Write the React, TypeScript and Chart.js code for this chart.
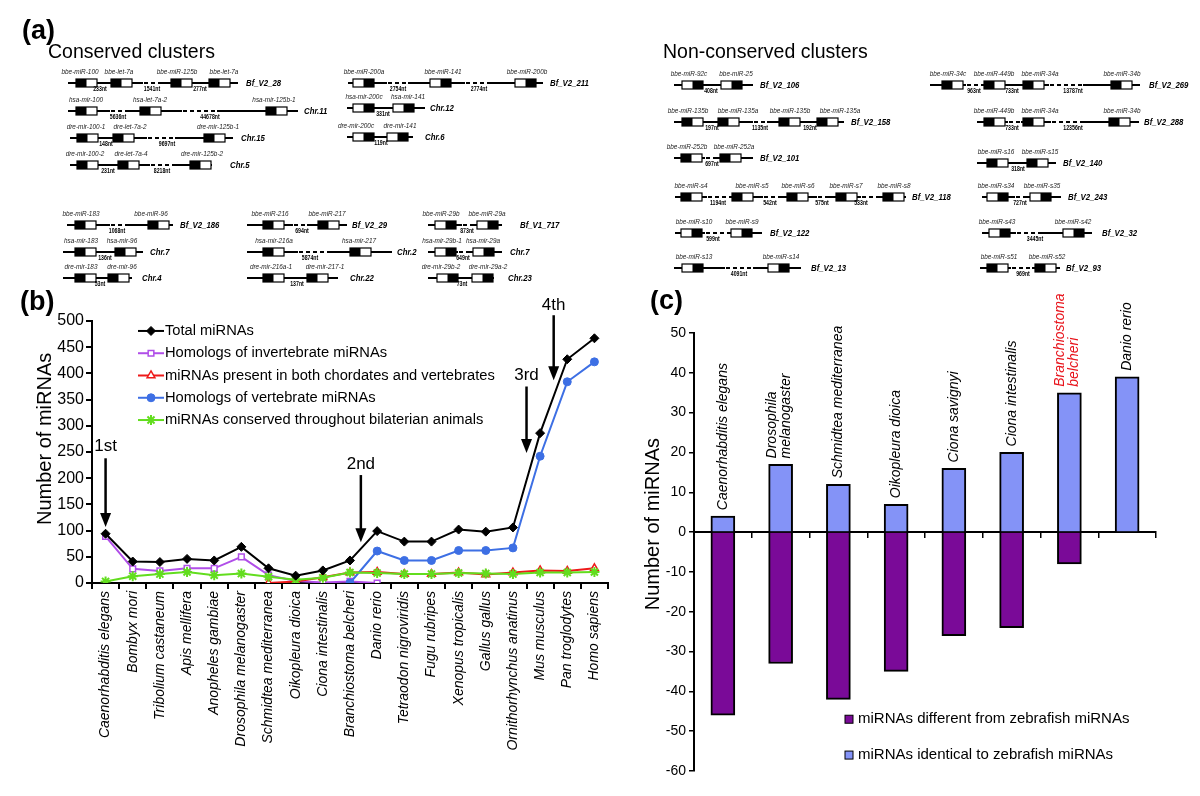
import React, { useEffect, useRef } from 'react';
import { Chart, registerables } from 'chart.js';
import { drawPoint } from 'chart.js/helpers';

Chart.register(...registerables);

const FONT = "'Liberation Sans', Arial, Helvetica, sans-serif";
Chart.defaults.font.family = FONT;
Chart.defaults.color = '#000';

// ---------------- Panel (a): gene clusters ----------------
type Gene = [number, number, string, number]; // box left, order (0 = black|white, 1 = white|black), name, name centre
type Cluster = { y: number; x0: number; x1: number; label: string; lx: number; genes: Gene[]; dashes: [number, number][]; dists: [number, string][] };

const CONSERVED: Cluster[] = [
  { y: 83, x0: 68, x1: 238, label: 'Bf_V2_28', lx: 246, genes: [[76, 0, 'bbe-miR-100', 80], [111, 0, 'bbe-let-7a', 119], [171, 0, 'bbe-miR-125b', 177], [209, 0, 'bbe-let-7a', 224]], dashes: [[143, 160]], dists: [[100, '233nt'], [152, '1541nt'], [200, '277nt']] },
  { y: 111, x0: 68, x1: 298, label: 'Chr.11', lx: 304, genes: [[76, 0, 'hsa-mir-100', 86], [140, 0, 'hsa-let-7a-2', 150], [266, 0, 'hsa-mir-125b-1', 274]], dashes: [[110, 128], [182, 217]], dists: [[118, '5636nt'], [210, '44678nt']] },
  { y: 138, x0: 70, x1: 233, label: 'Chr.15', lx: 241, genes: [[77, 0, 'dre-mir-100-1', 86], [113, 0, 'dre-let-7a-2', 130], [204, 0, 'dre-mir-125b-1', 218]], dashes: [[147, 175]], dists: [[106, '148nt'], [167, '9697nt']] },
  { y: 165, x0: 70, x1: 212, label: 'Chr.5', lx: 230, genes: [[77, 0, 'dre-mir-100-2', 85], [118, 0, 'dre-let-7a-4', 131], [190, 0, 'dre-mir-125b-2', 202]], dashes: [[150, 173]], dists: [[108, '231nt'], [162, '8218nt']] },
  { y: 83, x0: 348, x1: 543, label: 'Bf_V2_211', lx: 550, genes: [[353, 1, 'bbe-miR-200a', 364], [430, 1, 'bbe-miR-141', 443], [515, 1, 'bbe-miR-200b', 527]], dashes: [[387, 408], [465, 488]], dists: [[398, '2754nt'], [479, '2774nt']] },
  { y: 108, x0: 347, x1: 425, label: 'Chr.12', lx: 430, genes: [[353, 1, 'hsa-mir-200c', 364], [393, 1, 'hsa-mir-141', 408]], dashes: [], dists: [[383, '331nt']] },
  { y: 137, x0: 347, x1: 413, label: 'Chr.6', lx: 425, genes: [[353, 1, 'dre-mir-200c', 356], [387, 1, 'dre-mir-141', 400]], dashes: [], dists: [[381, '119nt']] },
  { y: 225, x0: 67, x1: 173, label: 'Bf_V2_186', lx: 180, genes: [[75, 0, 'bbe-miR-183', 81], [148, 0, 'bbe-miR-96', 151]], dashes: [[110, 128]], dists: [[117, '1068nt']] },
  { y: 252, x0: 63, x1: 143, label: 'Chr.7', lx: 150, genes: [[75, 0, 'hsa-mir-183', 81], [115, 0, 'hsa-mir-96', 122]], dashes: [], dists: [[105, '136nt']] },
  { y: 278, x0: 63, x1: 132, label: 'Chr.4', lx: 142, genes: [[75, 0, 'dre-mir-183', 81], [108, 0, 'dre-mir-96', 122]], dashes: [], dists: [[100, '53nt']] },
  { y: 225, x0: 247, x1: 347, label: 'Bf_V2_29', lx: 352, genes: [[263, 0, 'bbe-miR-216', 270], [318, 0, 'bbe-miR-217', 327]], dashes: [[293, 307]], dists: [[302, '694nt']] },
  { y: 252, x0: 247, x1: 392, label: 'Chr.2', lx: 397, genes: [[263, 0, 'hsa-mir-216a', 274], [350, 0, 'hsa-mir-217', 359]], dashes: [[298, 328]], dists: [[310, '5874nt']] },
  { y: 278, x0: 247, x1: 338, label: 'Chr.22', lx: 350, genes: [[263, 0, 'dre-mir-216a-1', 271], [307, 0, 'dre-mir-217-1', 325]], dashes: [], dists: [[297, '137nt']] },
  { y: 225, x0: 428, x1: 502, label: 'Bf_V1_717', lx: 520, genes: [[435, 1, 'bbe-miR-29b', 441], [477, 1, 'bbe-miR-29a', 487]], dashes: [[462, 473]], dists: [[467, '873nt']] },
  { y: 252, x0: 428, x1: 502, label: 'Chr.7', lx: 510, genes: [[435, 1, 'hsa-mir-29b-1', 442], [473, 1, 'hsa-mir-29a', 483]], dashes: [[458, 470]], dists: [[463, '649nt']] },
  { y: 278, x0: 428, x1: 494, label: 'Chr.23', lx: 508, genes: [[437, 1, 'dre-mir-29b-2', 441], [472, 1, 'dre-mir-29a-2', 488]], dashes: [], dists: [[462, '73nt']] },
];

const NONCONSERVED: Cluster[] = [
  { y: 85, x0: 674, x1: 753, label: 'Bf_V2_106', lx: 760, genes: [[682, 1, 'bbe-miR-92c', 689], [721, 1, 'bbe-miR-25', 736]], dashes: [], dists: [[711, '408nt']] },
  { y: 122, x0: 674, x1: 844, label: 'Bf_V2_158', lx: 851, genes: [[682, 0, 'bbe-miR-135b', 688], [718, 0, 'bbe-miR-135a', 738], [779, 0, 'bbe-miR-135b', 790], [817, 0, 'bbe-miR-135a', 840]], dashes: [[753, 767]], dists: [[712, '197nt'], [760, '1135nt'], [810, '192nt']] },
  { y: 158, x0: 674, x1: 753, label: 'Bf_V2_101', lx: 760, genes: [[681, 0, 'bbe-miR-252b', 687], [720, 0, 'bbe-miR-252a', 734]], dashes: [[705, 717]], dists: [[712, '697nt']] },
  { y: 85, x0: 930, x1: 1140, label: 'Bf_V2_269', lx: 1149, genes: [[942, 0, 'bbe-miR-34c', 948], [984, 0, 'bbe-miR-449b', 994], [1023, 0, 'bbe-miR-34a', 1040], [1111, 0, 'bbe-miR-34b', 1122]], dashes: [[966, 982], [1049, 1083]], dists: [[974, '963nt'], [1012, '733nt'], [1073, '13787nt']] },
  { y: 122, x0: 977, x1: 1139, label: 'Bf_V2_288', lx: 1144, genes: [[984, 0, 'bbe-miR-449b', 994], [1023, 0, 'bbe-miR-34a', 1040], [1109, 0, 'bbe-miR-34b', 1122]], dashes: [[1008, 1021], [1051, 1084]], dists: [[1012, '733nt'], [1073, '12356nt']] },
  { y: 163, x0: 977, x1: 1056, label: 'Bf_V2_140', lx: 1063, genes: [[987, 0, 'bbe-miR-s16', 996], [1027, 0, 'bbe-miR-s15', 1040]], dashes: [], dists: [[1018, '318nt']] },
  { y: 197, x0: 675, x1: 906, label: 'Bf_V2_118', lx: 912, genes: [[681, 0, 'bbe-miR-s4', 691], [732, 0, 'bbe-miR-s5', 752], [787, 0, 'bbe-miR-s6', 798], [836, 0, 'bbe-miR-s7', 846], [883, 0, 'bbe-miR-s8', 894]], dashes: [[707, 729], [763, 779], [817, 829], [861, 877]], dists: [[718, '1194nt'], [770, '542nt'], [822, '575nt'], [861, '533nt']] },
  { y: 233, x0: 675, x1: 762, label: 'Bf_V2_122', lx: 770, genes: [[681, 1, 'bbe-miR-s10', 694], [731, 1, 'bbe-miR-s9', 742]], dashes: [[705, 727]], dists: [[713, '599nt']] },
  { y: 268, x0: 674, x1: 801, label: 'Bf_V2_13', lx: 811, genes: [[682, 1, 'bbe-miR-s13', 694], [768, 1, 'bbe-miR-s14', 781]], dashes: [[725, 753]], dists: [[739, '4091nt']] },
  { y: 197, x0: 982, x1: 1061, label: 'Bf_V2_243', lx: 1068, genes: [[987, 1, 'bbe-miR-s34', 996], [1030, 1, 'bbe-miR-s35', 1042]], dashes: [[1015, 1027]], dists: [[1020, '727nt']] },
  { y: 233, x0: 982, x1: 1092, label: 'Bf_V2_32', lx: 1102, genes: [[989, 1, 'bbe-miR-s43', 997], [1063, 1, 'bbe-miR-s42', 1073]], dashes: [[1016, 1042]], dists: [[1035, '3445nt']] },
  { y: 268, x0: 980, x1: 1060, label: 'Bf_V2_93', lx: 1066, genes: [[987, 0, 'bbe-miR-s51', 999], [1035, 0, 'bbe-miR-s52', 1047]], dashes: [[1011, 1032]], dists: [[1023, '969nt']] },
];

// ---------------- Panel (b) data ----------------
const SPECIES_B = ['Caenorhabditis elegans', 'Bombyx mori', 'Tribolium castaneum', 'Apis mellifera', 'Anopheles gambiae', 'Drosophila melanogaster', 'Schmidtea mediterranea', 'Oikopleura dioica', 'Ciona intestinalis', 'Branchiostoma belcheri', 'Danio rerio', 'Tetraodon nigroviridis', 'Fugu rubripes', 'Xenopus tropicalis', 'Gallus gallus', 'Ornithorhynchus anatinus', 'Mus musculus', 'Pan troglodytes', 'Homo sapiens'];
const TOTAL = [94, 41, 40, 46, 43, 69, 28, 14, 24, 43, 99, 79, 79, 102, 98, 106, 286, 427, 467];
const INVERT = [89, 27, 23, 28, 28, 50, 15, 4, 1, 3, 0, null, null, null, null, null, null, null, null];
const BOTH = [null, null, null, null, null, null, 0, 3, 11, 20, 21, 17, 17, 20, 16, 20, 24, 23, 28];
const VERT = [null, null, null, null, null, null, null, null, null, 0, 61, 43, 43, 62, 62, 67, 242, 384, 422];
const BILAT = [3, 13, 17, 21, 15, 18, 12, 6, 10, 20, 19, 17, 17, 19, 18, 17, 20, 20, 21];
const LEGEND_B = ['Total miRNAs', 'Homologs of invertebrate miRNAs', 'miRNAs present in both chordates and vertebrates', 'Homologs of vertebrate miRNAs', 'miRNAs conserved throughout bilaterian animals'];
const ARROW_LABELS = ['1st', '2nd', '3rd', '4th'];
const ARROW_AT = [0, 9.4, 15.5, 16.5];
const ARROW_FROM = [238, 206, 375, 511];
const ARROW_TO = [107, 78, 248, 387];
const ARROW_TEXT = [260, 227, 397, 530];

// ---------------- Panel (c) data ----------------
const SPECIES_C = [['Caenorhabditis elegans'], ['Drosophila', 'melanogaster'], ['Schmidtea mediterranea'], ['Oikopleura dioica'], ['Ciona savignyi'], ['Ciona intestinalis'], ['Branchiostoma', 'belcheri'], ['Danio rerio']];
const IDENTICAL = [4, 17, 12, 7, 16, 20, 35, 39];
const DIFFERENT = [-46, -33, -42, -35, -26, -24, -8, 0];
const HIGHLIGHT_C = 6;
const LEGEND_C = ['miRNAs different from zebrafish miRNAs', 'miRNAs identical to zebrafish miRNAs'];

const BLUE_BAR = '#8493F7';
const PURPLE_BAR = '#7A0A98';

function condensedText(ctx: CanvasRenderingContext2D, text: string, x: number, y: number, sx: number) {
  ctx.save();
  ctx.translate(x, y);
  ctx.scale(sx, 1);
  ctx.fillText(text, 0, 0);
  ctx.restore();
}

function drawCluster(ctx: CanvasRenderingContext2D, c: Cluster, px: (v: number) => number, py: (v: number) => number) {
  const yy = py(c.y);
  const dashes = [...c.dashes].sort((a, b) => a[0] - b[0]);
  const segs: [number, number][] = [];
  let cur = c.x0;
  for (const [a, b] of dashes) { segs.push([cur, a]); cur = b; }
  segs.push([cur, c.x1]);
  ctx.strokeStyle = '#000';
  ctx.lineWidth = 2;
  ctx.setLineDash([]);
  ctx.beginPath();
  for (const [a, b] of segs) { ctx.moveTo(px(a), yy); ctx.lineTo(px(b), yy); }
  ctx.stroke();
  ctx.setLineDash([4, 3]);
  ctx.beginPath();
  for (const [a, b] of dashes) { ctx.moveTo(px(a) + 1, yy); ctx.lineTo(px(b), yy); }
  ctx.stroke();
  ctx.setLineDash([]);
  for (const [left, order, name, nx] of c.genes) {
    const l = px(left), r = px(left + 21);
    const top = py(c.y - 4), h = py(c.y + 4) - top;
    ctx.fillStyle = '#fff';
    ctx.fillRect(l, top, r - l, h);
    ctx.fillStyle = '#000';
    if (order === 0) ctx.fillRect(l, top, (r - l) / 2, h);
    else ctx.fillRect((l + r) / 2, top, (r - l) / 2, h);
    ctx.lineWidth = 1.2;
    ctx.strokeRect(l, top, r - l, h);
    ctx.font = `italic 8px ${FONT}`;
    ctx.fillStyle = '#222';
    ctx.textAlign = 'center';
    ctx.textBaseline = 'middle';
    condensedText(ctx, name, px(nx), py(c.y - 11), 0.8);
  }
  ctx.font = `bold 6.5px ${FONT}`;
  ctx.fillStyle = '#000';
  ctx.textAlign = 'center';
  ctx.textBaseline = 'middle';
  for (const [x, t] of c.dists) condensedText(ctx, t, px(x), py(c.y + 6.5), 0.8);
  ctx.font = `italic bold 9.5px ${FONT}`;
  ctx.textAlign = 'left';
  condensedText(ctx, c.label, px(c.lx), yy, 0.82);
}

const clustersPlugin = {
  id: 'clusters',
  afterDraw(chart: any) {
    const { ctx } = chart;
    const xs = chart.scales.x, ys = chart.scales.y;
    const px = (v: number) => xs.getPixelForValue(v);
    const py = (v: number) => ys.getPixelForValue(v);
    ctx.save();
    ctx.fillStyle = '#000';
    ctx.textBaseline = 'middle';
    ctx.textAlign = 'left';
    ctx.font = `bold 27px ${FONT}`;
    ctx.fillText('(a)', px(22), py(32));
    ctx.font = `19.5px ${FONT}`;
    ctx.fillText('Conserved clusters', px(48), py(53));
    ctx.fillText('Non-conserved clusters', px(663), py(53));
    for (const c of CONSERVED) drawCluster(ctx, c, px, py);
    for (const c of NONCONSERVED) drawCluster(ctx, c, px, py);
    ctx.restore();
  },
};

function drawArrow(ctx: CanvasRenderingContext2D, x: number, y0: number, y1: number) {
  ctx.strokeStyle = '#000';
  ctx.fillStyle = '#000';
  ctx.lineWidth = 2.5;
  ctx.beginPath();
  ctx.moveTo(x, y0);
  ctx.lineTo(x, y1 - 10);
  ctx.stroke();
  ctx.beginPath();
  ctx.moveTo(x - 5.5, y1 - 14);
  ctx.lineTo(x + 5.5, y1 - 14);
  ctx.lineTo(x, y1);
  ctx.closePath();
  ctx.fill();
}

const panelBPlugin = {
  id: 'panelB',
  afterDraw(chart: any) {
    const { ctx, chartArea } = chart;
    const xs = chart.scales.x, ys = chart.scales.y;
    ctx.save();
    ctx.fillStyle = '#000';
    ctx.font = `bold 27px ${FONT}`;
    ctx.textAlign = 'left';
    ctx.textBaseline = 'middle';
    ctx.fillText('(b)', 20, 13);
    // y title
    ctx.save();
    ctx.translate(45, ys.getPixelForValue(275));
    ctx.rotate(-Math.PI / 2);
    ctx.font = `20px ${FONT}`;
    ctx.textAlign = 'center';
    ctx.fillText('Number of miRNAs', 0, 0);
    ctx.restore();
    // legend
    chart.data.datasets.forEach((ds: any, i: number) => {
      const y = ys.getPixelForValue(481 - 42.5 * i);
      const x0 = chartArea.left + 46, x1 = chartArea.left + 72;
      ctx.strokeStyle = ds.borderColor;
      ctx.lineWidth = 2;
      ctx.beginPath();
      ctx.moveTo(x0, y);
      ctx.lineTo(x1, y);
      ctx.stroke();
      ctx.fillStyle = ds.pointBackgroundColor;
      ctx.strokeStyle = ds.pointBorderColor || ds.borderColor;
      ctx.lineWidth = ds.pointBorderWidth;
      drawPoint(ctx, { pointStyle: ds.pointStyle, rotation: 0, radius: ds.pointRadius, borderWidth: ds.pointBorderWidth }, (x0 + x1) / 2, y);
      ctx.fillStyle = '#000';
      ctx.font = `14.7px ${FONT}`;
      ctx.textAlign = 'left';
      ctx.textBaseline = 'middle';
      ctx.fillText(ds.label, x1 + 1, y);
    });
    // arrows
    ARROW_LABELS.forEach((t, i) => {
      const x = xs.getPixelForValue(ARROW_AT[i]);
      drawArrow(ctx, x, ys.getPixelForValue(ARROW_FROM[i]), ys.getPixelForValue(ARROW_TO[i]));
      ctx.fillStyle = '#000';
      ctx.font = `17px ${FONT}`;
      ctx.textAlign = 'center';
      ctx.textBaseline = 'middle';
      ctx.fillText(t, x, ys.getPixelForValue(ARROW_TEXT[i]));
    });
    ctx.restore();
  },
};

const panelCPlugin = {
  id: 'panelC',
  afterDraw(chart: any) {
    const { ctx, chartArea } = chart;
    const ys = chart.scales.y;
    ctx.save();
    ctx.fillStyle = '#000';
    ctx.font = `bold 27px ${FONT}`;
    ctx.textAlign = 'left';
    ctx.textBaseline = 'middle';
    ctx.fillText('(c)', 10, 12);
    // y title
    ctx.save();
    ctx.translate(13, ys.getPixelForValue(2));
    ctx.rotate(-Math.PI / 2);
    ctx.font = `20px ${FONT}`;
    ctx.textAlign = 'center';
    ctx.fillText('Number of miRNAs', 0, 0);
    ctx.restore();
    // category labels above bars
    const meta = chart.getDatasetMeta(1);
    SPECIES_C.forEach((lines, i) => {
      const bar = meta.data[i];
      const top = Math.min(bar.y, ys.getPixelForValue(0));
      ctx.save();
      ctx.translate(bar.x - (lines.length > 1 ? 2 : 0), top - 6);
      ctx.rotate(-Math.PI / 2);
      ctx.font = `italic 14px ${FONT}`;
      ctx.fillStyle = i === HIGHLIGHT_C ? '#E8141C' : '#000';
      ctx.textAlign = 'left';
      ctx.textBaseline = 'middle';
      lines.forEach((t, j) => ctx.fillText(t, 0, (j - (lines.length - 1) / 2) * 14));
      ctx.restore();
    });
    // legend
    chart.data.datasets.forEach((ds: any, i: number) => {
      const y = ys.getPixelForValue(-47 - 9 * i);
      const x = chartArea.left + 151;
      ctx.fillStyle = ds.backgroundColor;
      ctx.fillRect(x, y - 4, 8, 8);
      ctx.strokeStyle = '#000';
      ctx.lineWidth = 1;
      ctx.strokeRect(x, y - 4, 8, 8);
      ctx.fillStyle = '#000';
      ctx.font = `15px ${FONT}`;
      ctx.textAlign = 'left';
      ctx.textBaseline = 'middle';
      ctx.fillText(ds.label, x + 13, y);
    });
    ctx.restore();
  },
};

function cfgA(): any {
  return {
    type: 'scatter',
    data: { datasets: [] },
    options: {
      responsive: false,
      animation: false,
      layout: { padding: 0 },
      plugins: { legend: { display: false }, tooltip: { enabled: false } },
      scales: {
        x: { type: 'linear', min: 0, max: 1200, display: false },
        y: { type: 'linear', min: 0, max: 290, reverse: true, display: false },
      },
    },
    plugins: [clustersPlugin],
  };
}

function lineDs(label: string, data: (number | null)[], color: string, style: string, radius: number, fill: string, order: number, bw = 1.5) {
  return {
    label, data, borderColor: color, backgroundColor: color, borderWidth: 2,
    pointStyle: style, pointRadius: radius, pointBackgroundColor: fill, pointBorderColor: color,
    pointBorderWidth: bw, tension: 0, spanGaps: false, order,
  };
}

function cfgB(): any {
  return {
    type: 'line',
    data: {
      labels: SPECIES_B,
      datasets: [
        lineDs(LEGEND_B[0], TOTAL, '#000000', 'rectRot', 4.5, '#000000', 0, 1),
        lineDs(LEGEND_B[1], INVERT, '#B04EE8', 'rect', 4, '#ffffff', 4, 1.5),
        lineDs(LEGEND_B[2], BOTH, '#EE1A1A', 'triangle', 4.5, '#ffffff', 3, 1.5),
        lineDs(LEGEND_B[3], VERT, '#3D6FE4', 'circle', 4, '#3D6FE4', 2, 1),
        lineDs(LEGEND_B[4], BILAT, '#62DD1E', 'star', 5, '#62DD1E', 1, 2),
      ],
    },
    options: {
      responsive: false,
      animation: false,
      layout: { padding: { top: 31, right: 32, left: 0, bottom: 0 } },
      plugins: { legend: { display: false }, tooltip: { enabled: false }, title: { display: false } },
      scales: {
        x: {
          type: 'category', offset: true,
          grid: { offset: true, drawOnChartArea: false, drawTicks: true, tickLength: 6, color: '#000', lineWidth: 2 },
          border: { color: '#000', width: 2 },
          ticks: { minRotation: 90, maxRotation: 90, autoSkip: false, padding: 2, color: '#000', font: { size: 14, style: 'italic' } },
          afterFit: (s: any) => { s.height = 213; },
        },
        y: {
          min: 0, max: 500,
          grid: { drawOnChartArea: false, tickLength: 6, color: '#000', lineWidth: 2 },
          border: { color: '#000', width: 2 },
          ticks: { stepSize: 50, padding: 2, color: '#000', font: { size: 16 } },
          afterFit: (s: any) => { s.width = 92; },
        },
      },
    },
    plugins: [panelBPlugin],
  };
}

function cfgC(): any {
  return {
    type: 'bar',
    data: {
      labels: SPECIES_C.map((l) => l.join(' ')),
      datasets: [
        { label: LEGEND_C[0], data: DIFFERENT, backgroundColor: PURPLE_BAR, borderColor: '#000', borderWidth: 2, barThickness: 24 },
        { label: LEGEND_C[1], data: IDENTICAL, backgroundColor: BLUE_BAR, borderColor: '#000', borderWidth: 2, barThickness: 24 },
      ],
    },
    options: {
      responsive: false,
      animation: false,
      layout: { padding: { top: 43, right: 44, left: 0, bottom: 25 } },
      plugins: { legend: { display: false }, tooltip: { enabled: false }, title: { display: false } },
      scales: {
        x: {
          type: 'category', stacked: true, position: { y: 0 }, offset: true,
          grid: { offset: true, drawOnChartArea: false, tickLength: 5, color: '#000', lineWidth: 1.5 },
          border: { color: '#000', width: 2 },
          ticks: { display: false },
        },
        y: {
          stacked: true, min: -60, max: 50,
          grid: { drawOnChartArea: false, tickLength: 5, color: '#000', lineWidth: 1.5 },
          border: { color: '#000', width: 2 },
          ticks: { stepSize: 10, padding: 3, color: '#000', font: { size: 14 } },
          afterFit: (s: any) => { s.width = 54; },
        },
      },
    },
    plugins: [panelCPlugin],
  };
}

export default function App() {
  const aRef = useRef<HTMLCanvasElement>(null);
  const bRef = useRef<HTMLCanvasElement>(null);
  const cRef = useRef<HTMLCanvasElement>(null);
  useEffect(() => {
    const charts = [
      new Chart(aRef.current as HTMLCanvasElement, cfgA()),
      new Chart(bRef.current as HTMLCanvasElement, cfgB()),
      new Chart(cRef.current as HTMLCanvasElement, cfgC()),
    ];
    return () => charts.forEach((c) => c.destroy());
  }, []);
  return (
    <div style={{ position: 'absolute', left: 0, top: 0, width: 1200, height: 796, background: '#fff', overflow: 'hidden' }}>
      <canvas ref={aRef} width={1200} height={290} style={{ position: 'absolute', left: 0, top: 0 }} />
      <canvas ref={bRef} width={640} height={506} style={{ position: 'absolute', left: 0, top: 290 }} />
      <canvas ref={cRef} width={560} height={506} style={{ position: 'absolute', left: 640, top: 290 }} />
    </div>
  );
}
